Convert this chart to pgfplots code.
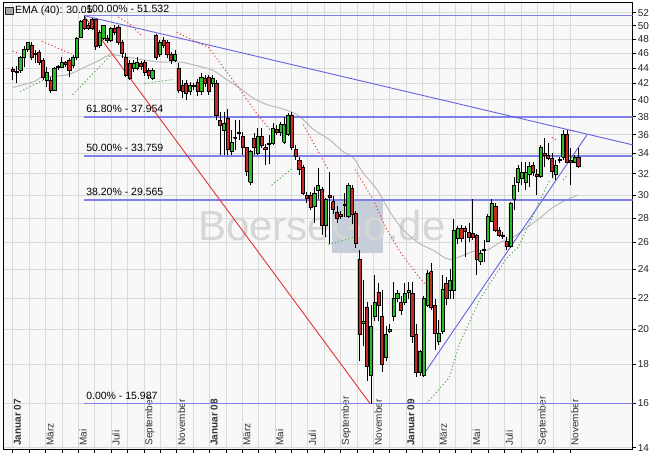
\documentclass[border=0pt]{standalone}
\usepackage{pgfplots}
\pgfplotsset{compat=1.18}
\usepackage{fontspec}
\setmainfont{Liberation Sans}
\definecolor{fibblue}{RGB}{128,128,234}
\definecolor{trendblue}{RGB}{100,100,225}
\definecolor{candgreen}{RGB}{40,190,40}
\definecolor{candred}{RGB}{200,40,40}
\definecolor{gridgray}{RGB}{218,218,218}
\definecolor{emagray}{RGB}{185,185,185}
\definecolor{sarred}{RGB}{225,60,60}
\definecolor{sargreen}{RGB}{70,170,70}
\definecolor{plotbg}{RGB}{248,248,248}
\definecolor{trendred}{RGB}{230,50,50}
\definecolor{logobox}{RGB}{198,206,218}
\definecolor{wmark}{RGB}{214,214,214}

% week / open / high / low / close
\def\updata{2/43.7/45.6/43.4/45.4,3/45.4/47.0/44.1/46.5,4/46.5/47.6/46.2/47.5,9/42.4/44.1/41.6/43.4,11/41.2/44.1/41.0/44.0,12/44.1/44.4/43.7/44.3,13/44.1/45.5/44.0/44.8,16/44.4/45.8/44.0/45.5,17/45.4/48.3/45.1/48.2,18/48.3/50.9/48.2/50.6,23/47.2/49.3/46.8/49.0,24/48.2/50.1/47.9/50.0,26/47.9/49.8/47.6/49.6,32/44.0/45.1/43.5/44.7,33/44.0/45.5/43.7/44.8,37/42.7/44.0/42.4/43.7,39/45.9/47.9/45.5/47.5,43/45.1/46.4/44.8/45.9,47/41.0/42.2/40.6/41.8,48/41.7/42.0/41.2/41.8,50/41.0/43.4/40.6/42.8,53/42.0/43.1/41.6/42.7,56/36.5/38.5/33.8/37.2,58/34.2/36.5/33.8/35.2,59/35.6/37.6/34.4/35.7,60/36.1/37.6/35.4/36.3,63/31.2/34.4/30.9/34.2,65/34.0/36.7/33.8/35.8,68/35.0/36.0/32.9/35.1,69/35.1/37.3/34.9/36.7,71/36.2/37.4/35.8/37.1,72/35.2/38.0/35.0/37.1,73/36.0/38.4/35.8/38.2,80/29.0/30.7/27.6/30.2,81/30.4/32.5/29.6/30.9,83/27.4/29.7/26.4/29.6,88/29.1/30.2/28.1/29.2,89/28.1/31.1/28.0/30.9,93/20.4/23.2/19.0/20.5,95/17.4/21.5/15.99/20.2,96/20.8/23.6/20.5/21.7,99/18.4/20.2/18.2/19.7,100/19.9/20.3/19.8/20.0,101/20.8/23.1/20.5/22.0,102/22.0/22.5/21.7/22.3,104/21.7/23.0/21.5/22.3,105/22.4/23.1/21.9/22.5,108/17.6/18.8/17.4/18.7,109/17.4/22.1/17.3/22.0,110/21.5/23.9/21.4/23.7,113/19.3/20.6/19.1/19.8,114/19.9/23.6/19.7/22.6,116/22.5/24.0/21.9/23.2,117/22.5/27.9/21.9/27.0,118/26.3/27.3/25.9/27.1,124/24.6/25.4/24.3/25.2,125/25.4/26.2/24.5/25.5,126/26.1/28.3/26.0/28.1,127/27.7/29.6/27.7/29.3,132/25.7/29.4/25.6/29.3,133/29.6/31.7/28.7/30.9,134/31.2/32.8/30.3/32.5,135/31.6/33.1/30.9/32.1,136/31.2/33.1/30.5/32.1,137/31.9/33.1/30.7/32.7,140/31.7/34.9/31.6/34.6,144/31.9/33.3/31.4/32.8,145/33.3/33.6/33.0/33.4,146/33.6/36.5/33.3/36.0,149/33.1/33.8/33.0/33.6}
\def\downdata{0/43.8/44.1/42.4/43.6,1/43.6/44.3/42.0/43.5,5/47.2/47.6/45.1/45.5,6/46.0/46.5/44.7/45.9,7/46.2/46.5/44.4/44.8,8/45.1/45.4/42.4/42.8,10/42.4/42.8/40.8/41.2,14/44.8/45.0/44.2/44.5,15/45.1/45.4/42.8/43.7,19/50.9/51.53/49.4/49.6,20/50.1/50.4/49.3/49.6,21/50.9/51.2/49.3/49.6,22/50.9/51.0/46.5/47.0,25/48.2/48.6/47.5/47.9,27/49.6/50.1/48.6/49.0,28/49.8/50.1/47.2/47.6,29/47.5/47.9/45.4/46.0,30/45.4/46.0/42.8/43.1,31/44.7/45.1/42.4/42.7,34/44.7/45.0/43.8/44.2,35/44.8/45.1/43.0/43.4,36/43.7/44.0/42.6/43.1,38/48.6/48.8/45.1/45.5,40/47.9/48.3/46.8/47.2,41/47.5/47.9/45.4/45.8,42/45.9/46.2/44.6/45.1,44/44.0/44.7/40.8/41.2,45/41.8/42.4/40.2/41.0,46/42.0/42.4/40.0/40.8,49/42.2/42.6/40.5/41.0,51/42.7/43.1/41.6/42.0,52/42.8/43.1/40.6/41.0,54/42.0/42.4/37.6/38.2,55/37.6/38.5/33.8/37.0,57/37.8/38.9/33.8/34.4,61/35.8/36.3/33.8/34.7,62/34.6/34.7/31.8/32.2,64/35.6/36.2/33.8/34.6,66/35.8/36.7/34.6/34.9,67/34.6/35.0/32.8/34.4,70/36.6/37.0/35.9/36.2,74/38.2/38.5/34.4/34.6,75/34.4/34.9/33.3/33.7,76/33.3/33.6/31.9/32.4,77/32.6/32.8/30.0/30.2,78/30.0/30.3/29.3/29.7,79/30.0/30.3/28.7/28.9,82/30.5/30.7/26.6/27.4,84/30.0/32.2/25.9/29.8,85/29.4/29.9/28.3/28.7,86/28.5/29.0/27.6/28.0,87/28.3/28.6/27.9/28.1,90/30.6/30.9/27.5/28.3,91/28.4/28.6/25.6/25.9,92/24.7/25.4/18.2/19.7,94/21.4/21.7/17.1/17.9,97/22.4/23.0/20.5/21.5,98/20.8/22.5/17.6/18.0,103/21.7/22.1/20.9/21.2,106/22.3/23.1/19.2/19.6,107/19.7/20.3/17.3/17.6,111/23.8/24.4/21.2/21.4,112/21.5/21.9/18.8/19.8,115/23.0/23.4/21.5/22.0,119/27.1/27.4/26.0/26.3,120/27.1/27.3/24.9/26.9,121/26.8/27.6/26.0/26.4,122/26.7/29.6/26.2/26.4,123/26.6/26.7/23.6/24.7,128/29.0/29.3/26.8/27.0,129/27.0/27.2/26.4/26.6,130/26.6/26.8/26.3/26.5,131/26.1/26.4/25.4/25.7,138/32.8/33.1/31.8/32.1,139/31.9/32.4/30.0/31.7,141/34.0/35.6/32.6/33.8,142/33.8/35.1/33.3/33.5,143/33.5/34.1/31.6/32.2,147/36.0/36.5/33.0/33.1,148/33.3/34.6/30.9/33.1,150/33.6/34.6/32.5/32.7}

\gdef\bodyup{}\gdef\bodydown{}\gdef\wicks{}
\foreach \w/\o/\h/\l/\c in \updata {%
  \pgfmathsetmacro\xa{\w-0.42}\pgfmathsetmacro\xb{\w+0.42}%
  \xdef\bodyup{\bodyup(\xa,\o)(\xb,\o)(\xb,\c)(\xa,\c)(\xa,\o)(nan,nan)}%
  \xdef\wicks{\wicks(\w,\l)(\w,\h)(nan,nan)}%
}
\foreach \w/\o/\h/\l/\c in \downdata {%
  \pgfmathsetmacro\xa{\w-0.42}\pgfmathsetmacro\xb{\w+0.42}%
  \xdef\bodydown{\bodydown(\xa,\o)(\xb,\o)(\xb,\c)(\xa,\c)(\xa,\o)(nan,nan)}%
  \xdef\wicks{\wicks(\w,\l)(\w,\h)(nan,nan)}%
}

\begin{document}
\begin{tikzpicture}
\useasboundingbox (-3pt,-5.7pt) rectangle (657pt,449.3pt);
\begin{axis}[
  at={(0pt,0pt)}, anchor=south west,
  scale only axis, width=629.7pt, height=446.8pt,
  xmin=-2.573, xmax=164.46,
  ymode=log, ymin=13.93, ymax=53.62,
  axis background/.style={fill=plotbg},
  axis line style={black, line width=0.8pt},
  unbounded coords=jump, filter discard warning=false,
  tick align=outside, major tick length=3.5pt,
  tick style={black, line width=0.6pt},
  xtick pos=left, ytick pos=right, yticklabel pos=right,
  grid=major, major grid style={gridgray, line width=0.6pt},
  xtick={0,4.348,8.696,13.04,17.39,21.74,26.09,30.44,34.79,39.13,43.48,47.83,52.18,56.53,60.87,65.22,69.57,73.92,78.27,82.62,86.96,91.31,95.66,100.01,104.36,108.7,113.05,117.4,121.75,126.1,130.45,134.79,139.14,143.49,147.84},
  xticklabels={\textbf{Januar 07},,März,,Mai,,Juli,,September,,November,,\textbf{Januar 08},,März,,Mai,,Juli,,September,,November,,\textbf{Januar 09},,März,,Mai,,Juli,,September,,November},
  xticklabel style={font=\fontsize{10}{12}\selectfont, text=black!80, yshift=6pt, rotate=90, anchor=north west, inner sep=1pt},
  ytick={14,16,18,20,22,24,26,28,30,32,34,36,38,40,42,44,46,48,50,52},
  yticklabels={14,16,18,20,22,24,26,28,30,32,34,36,38,40,42,44,46,48,50,52},
  yticklabel style={font=\fontsize{10}{12}\selectfont, text=black!85, inner sep=1.5pt},
  legend style={at={(rel axis cs:0,1)}, anchor=north west, draw=none, fill=none,
    font=\fontsize{10.5}{12}\selectfont, inner sep=1pt, xshift=1pt, yshift=-0.5pt},
  legend image code/.code={\draw[fill=gray!70, draw=gray!30!black, line width=0.4pt] (0pt,-3.8pt) rectangle (7.6pt,3.8pt);},
]
% watermark
\fill[logobox] (rel axis cs:0.5225,0.439) rectangle (rel axis cs:0.6035,0.558);
\node[font=\fontsize{42}{48}\selectfont, text=wmark, anchor=base west, inner sep=0pt] at (rel axis cs:0.3097,0.4684) {BoerseGo.de};

% EMA 40
\addplot[emagray, line width=1pt, smooth, tension=0.5] coordinates {(0,41.5)(5.4,42.2)(8,42.8)(14.4,43.1)(18.6,44.0)(23.2,45.1)(25.8,45.8)(30.3,45.5)(34.6,45.1)(39.1,44.8)(44.4,44.8)(49.7,44.2)(53.1,43.7)(56.8,42.5)(60.3,41.4)(63.7,40.2)(67.5,39.4)(70.9,39.0)(73.6,38.6)(76.2,38.0)(79.7,36.6)(84.2,35.4)(87.6,34.2)(90.3,33.6)(92.9,32.1)(96.6,30.5)(100.1,28.5)(103.6,27.0)(108,25.9)(111.5,25.4)(116,24.7)(122.1,25.3)(125.8,25.4)(129.3,26.0)(132.7,26.4)(136.4,27.2)(139.9,28.0)(143.3,28.9)(147.1,29.6)(150,30.0)};
\addlegendentry{EMA (40): 30.05}

% parabolic SAR
\addplot[sarred, line width=1pt, dash pattern=on 1.1pt off 2.4pt, forget plot] coordinates {(0,46.3)(1.5,46.0)(nan,nan)(7.7,47.7)(15.6,45.9)(nan,nan)(28,51.3)(31,50.3)(34,48.6)(nan,nan)(43.5,49.0)(52,46.8)(56,44.0)(60,41.4)(64.5,38.5)(68.5,36.4)(nan,nan)(77.1,37.1)(83.7,32.4)(nan,nan)(90.8,32.4)(95.6,29.6)(99.3,27.0)(102.7,25.3)(107.2,23.6)(109.5,22.9)(nan,nan)(143,35.7)(144.3,35.4)(nan,nan)(147.8,36.5)(149.6,36.3)};
\addplot[sargreen, line width=1pt, dash pattern=on 1.1pt off 2.4pt, forget plot] coordinates {(2,41.0)(8,42.4)(nan,nan)(15.9,40.6)(26.3,45.9)(nan,nan)(35,42.0)(42.5,42.5)(nan,nan)(68.7,30.9)(74.4,32.6)(nan,nan)(83.7,25.8)(90.3,26.4)(nan,nan)(109.8,16.0)(115.8,17.3)(118.6,19.2)(123.9,21.9)(131,24.8)(134,25.6)(137.2,27.6)(141.6,30.8)(142.5,31.4)(nan,nan)(146,31.4)(147.3,31.9)};

% Fibonacci levels
\addplot[draw=fibblue, line width=1.6pt, forget plot] coordinates {(18.9,51.532)(164.46,51.532)};
\addplot[draw=fibblue, line width=1.6pt, forget plot] coordinates {(18.9,37.954)(164.46,37.954)};
\addplot[draw=fibblue, line width=1.6pt, forget plot] coordinates {(18.9,33.759)(164.46,33.759)};
\addplot[draw=fibblue, line width=1.6pt, forget plot] coordinates {(18.9,29.565)(164.46,29.565)};
\addplot[draw=fibblue, line width=1.6pt, forget plot] coordinates {(18.9,15.987)(164.46,15.987)};
\node[anchor=south west, font=\fontsize{10.5}{12}\selectfont, inner sep=1pt, yshift=1.5pt] at (axis cs:19.2,51.532) {100.00\% - 51.532};
\node[anchor=south west, font=\fontsize{10.5}{12}\selectfont, inner sep=1pt, yshift=3pt] at (axis cs:19.2,37.954) {61.80\% - 37.954};
\node[anchor=south west, font=\fontsize{10.5}{12}\selectfont, inner sep=1pt, yshift=3pt] at (axis cs:19.2,33.759) {50.00\% - 33.759};
\node[anchor=south west, font=\fontsize{10.5}{12}\selectfont, inner sep=1pt, yshift=3pt] at (axis cs:19.2,29.565) {38.20\% - 29.565};
\node[anchor=south west, font=\fontsize{10.5}{12}\selectfont, inner sep=1pt, yshift=3pt] at (axis cs:19.2,15.987) {0.00\% - 15.987};

% trend lines
\addplot[draw=trendred, line width=0.9pt, forget plot] coordinates {(18.9,51.532)(94.8,15.987)};
\addplot[draw=trendblue, line width=0.9pt, forget plot] coordinates {(18.9,51.532)(164.46,34.9)};
\addplot[draw=trendblue, line width=0.9pt, forget plot] coordinates {(108.9,17.43)(152.3,35.95)};

% candles
\edef\tmp{\noexpand\addplot[black, line width=0.6pt, forget plot] coordinates {\wicks};}\tmp
\edef\tmp{\noexpand\addplot[draw=black, line width=0.5pt, fill=candgreen, forget plot] coordinates {\bodyup};}\tmp
\edef\tmp{\noexpand\addplot[draw=black, line width=0.5pt, fill=candred, forget plot] coordinates {\bodydown};}\tmp
\end{axis}
\end{tikzpicture}
\end{document}
